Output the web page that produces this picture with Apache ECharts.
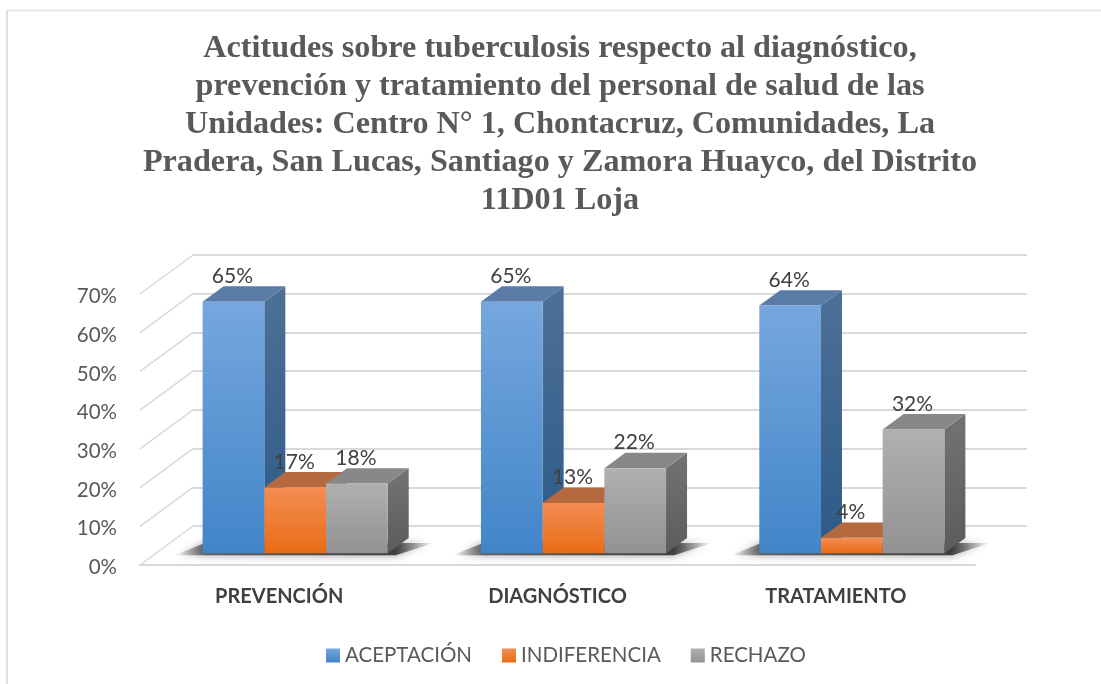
<!DOCTYPE html>
<html>
<head>
<meta charset="utf-8">
<style>html,body{margin:0;padding:0;background:#fff}#chart{width:1101px;height:684px}</style>
<script src="https://cdn.jsdelivr.net/npm/echarts@6/dist/echarts.min.js"></script>
</head>
<body>
<div id="chart"></div>
<script>
const titleText = 'Actitudes sobre tuberculosis respecto al diagnóstico,\nprevención y tratamiento del personal de salud de las\nUnidades: Centro N° 1, Chontacruz, Comunidades, La\nPradera, San Lucas, Santiago y Zamora Huayco, del Distrito\n11D01 Loja';
const categories = ['PREVENCIÓN', 'DIAGNÓSTICO', 'TRATAMIENTO'];
const aceptacion = [65, 65, 64];
const indiferencia = [17, 13, 4];
const rechazo = [18, 22, 32];
const ticks = [0, 10, 20, 30, 40, 50, 60, 70];

const chart = echarts.init(document.getElementById('chart'));

// depth of the chart box and of the bars, in px
const wallDx = 53, wallDy = -39;
const barShiftX = 16, barShiftY = -11.7;
const barW = 61.7, barDx = 21, barDy = -15.4;

function vGrad(top, bottom) {
    return new echarts.graphic.LinearGradient(0, 0, 0, 1, [
        { offset: 0, color: top },
        { offset: 1, color: bottom }
    ]);
}

const palettes = [
    { front: ['#76a7de', '#4185c9'], side: ['#4e7097', '#2c5a88'], top: '#5a7ca6' },
    { front: ['#f38d54', '#e96c15'], side: ['#a65c30', '#8f4c20'], top: '#b4693f' },
    { front: ['#b0b0b0', '#929292'], side: ['#737373', '#5c5c5c'], top: '#888888' }
];

function bar3d(seriesIndex) {
    return function (params, api) {
        const cat = api.value(0), val = api.value(1);
        const p = api.coord([cat, val]);
        const base = api.coord([cat, 0]);
        const pal = palettes[seriesIndex];
        const x0 = p[0] + barShiftX + (seriesIndex - 1.5) * barW;
        const x1 = x0 + barW;
        const y0 = p[1] + barShiftY;
        const y1 = base[1] + barShiftY;
        return {
            type: 'group',
            children: [
                {
                    type: 'polygon',
                    shape: { points: [[x1, y0], [x1 + barDx, y0 + barDy], [x1 + barDx, y1 + barDy], [x1, y1]] },
                    style: { fill: vGrad(pal.side[0], pal.side[1]) }
                },
                {
                    type: 'polygon',
                    shape: { points: [[x0, y0], [x0 + barDx, y0 + barDy], [x1 + barDx, y0 + barDy], [x1, y0]] },
                    style: { fill: pal.top }
                },
                {
                    type: 'rect',
                    shape: { x: x0, y: y0, width: barW, height: y1 - y0 },
                    style: { fill: vGrad(pal.front[0], pal.front[1]) }
                },
                {
                    type: 'text',
                    style: {
                        x: x0 + barW / 2 - 1, y: y0 - 25.5, text: val + '%',
                        fill: '#404040', font: '21px Lato', align: 'center', verticalAlign: 'middle'
                    }
                }
            ]
        };
    };
}

function floorShadow(params, api) {
    const c = api.coord([api.value(0), 0]);
    const cx = c[0] + barShiftX, y1 = c[1] + barShiftY;
    const w = barW * 1.5;
    return {
        type: 'polygon',
        shape: { points: [[cx - w - 28, y1 + 2], [cx - w + 2, y1 + barDy + 5], [cx + w + 46, y1 + barDy + 5], [cx + w + 8, y1 + 2]] },
        style: {
            fill: new echarts.graphic.LinearGradient(0, 0, 1, 0, [
                { offset: 0, color: 'rgba(70,70,70,0)' },
                { offset: 0.12, color: 'rgba(70,70,70,0.8)' },
                { offset: 0.85, color: 'rgba(50,50,50,0.9)' },
                { offset: 1, color: 'rgba(70,70,70,0)' }
            ]),
            shadowBlur: 8,
            shadowColor: 'rgba(90,90,90,0.7)'
        }
    };
}

function wallLine(params, api) {
    const c = api.coord([0, api.value(0)]);
    const x = params.coordSys.x;
    return {
        type: 'line',
        shape: { x1: x, y1: c[1], x2: x + wallDx, y2: c[1] + wallDy },
        style: { stroke: '#d9d9d9', lineWidth: 1.5 }
    };
}

function seriesOf(name, values, idx) {
    return {
        name: name,
        type: 'custom',
        xAxisIndex: 0,
        yAxisIndex: 0,
        z: 5,
        renderItem: bar3d(idx),
        encode: { x: 0, y: 1 },
        data: values.map((v, i) => [i, v])
    };
}

function legendItem(name, idx) {
    return { name: name, icon: 'rect', itemStyle: { color: vGrad(palettes[idx].front[0], palettes[idx].front[1]) } };
}

const options = {
    backgroundColor: '#fff',
    animation: false,
    title: {
        text: titleText,
        left: 555,
        top: 25,
        textAlign: 'center',
        textStyle: {
            fontFamily: 'Liberation Serif',
            fontWeight: 'bold',
            fontSize: 32.2,
            lineHeight: 38,
            color: '#595959'
        }
    },
    legend: {
        left: 326,
        top: 645,
        padding: 0,
        itemWidth: 14,
        itemHeight: 14,
        itemGap: 30,
        textStyle: { fontFamily: 'Lato', fontSize: 20.5, color: '#595959' },
        data: [legendItem('ACEPTACIÓN', 0), legendItem('INDIFERENCIA', 1), legendItem('RECHAZO', 2)]
    },
    grid: [
        { left: 140, right: 126, top: 294, bottom: 119 },
        { left: 193, right: 74, top: 255, bottom: 158 }
    ],
    xAxis: [
        {
            type: 'category',
            gridIndex: 0,
            data: categories,
            axisTick: { show: false },
            axisLine: { lineStyle: { color: '#d9d9d9', width: 2 } },
            axisLabel: { margin: 22, fontFamily: 'Lato', fontSize: 20, fontWeight: 'bold', color: '#404040' }
        },
        {
            type: 'category',
            gridIndex: 1,
            data: categories,
            show: false
        }
    ],
    yAxis: [
        {
            type: 'value',
            gridIndex: 0,
            min: 0,
            max: 70,
            interval: 10,
            splitLine: { show: false },
            axisLine: { show: false },
            axisTick: { show: false },
            axisLabel: {
                margin: 23,
                formatter: '{a|{value}%}',
                rich: { a: { padding: [5, 0, 0, 0], fontFamily: 'Lato', fontSize: 20.5, color: '#595959' } }
            }
        },
        {
            type: 'value',
            gridIndex: 1,
            min: 0,
            max: 70,
            interval: 10,
            axisLine: { show: false },
            axisTick: { show: false },
            axisLabel: { show: false },
            splitLine: { lineStyle: { color: '#d9d9d9', width: 2 } }
        }
    ],
    // thin frame of the chart area, cut off at right and bottom
    graphic: [
        { type: 'line', silent: true, shape: { x1: 7, y1: 10.5, x2: 1101, y2: 10.5 }, style: { stroke: '#e0e0e0', lineWidth: 1.5 } },
        { type: 'line', silent: true, shape: { x1: 7, y1: 10, x2: 7, y2: 684 }, style: { stroke: '#e0e0e0', lineWidth: 2 } }
    ],
    series: [
        {
            name: 'walls',
            type: 'custom',
            xAxisIndex: 0,
            yAxisIndex: 0,
            silent: true,
            z: 1,
            renderItem: wallLine,
            data: ticks.map(t => [t])
        },
        {
            name: 'shadow',
            type: 'custom',
            xAxisIndex: 0,
            yAxisIndex: 0,
            silent: true,
            z: 2,
            renderItem: floorShadow,
            data: categories.map((c, i) => [i])
        },
        seriesOf('ACEPTACIÓN', aceptacion, 0),
        seriesOf('INDIFERENCIA', indiferencia, 1),
        seriesOf('RECHAZO', rechazo, 2)
    ]
};
chart.setOption(options);
</script>
</body>
</html>
